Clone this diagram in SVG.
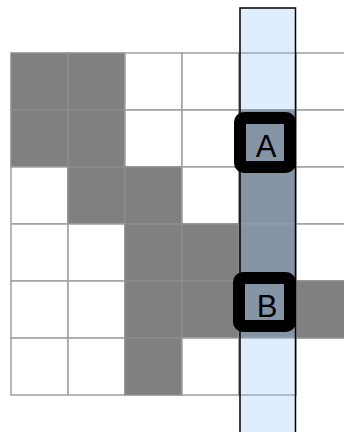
<svg xmlns="http://www.w3.org/2000/svg" width="344" height="432" viewBox="0 0 344 432">
<style>
.w{fill:#ffffff;stroke:#a0a0a0;stroke-width:1.5}
.g{fill:#808080;stroke:#8c8c8c;stroke-width:1.5}
.col{fill:#94c8ff;fill-opacity:0.3;stroke:#000;stroke-width:1.5}
.box{fill:none;stroke:#000;stroke-width:12}
.lbl{font-family:"Liberation Sans",Arial,sans-serif;font-size:31px;fill:#000;text-anchor:middle}
</style>
<rect width="344" height="432" fill="#ffffff"/>
<g id="grid">
<rect class="g" x="11" y="53" width="57" height="57"/>
<rect class="g" x="68" y="53" width="57" height="57"/>
<rect class="w" x="125" y="53" width="57" height="57"/>
<rect class="w" x="182" y="53" width="57" height="57"/>
<rect class="w" x="239" y="53" width="57" height="57"/>
<rect class="w" x="296" y="53" width="57" height="57"/>
<rect class="g" x="11" y="110" width="57" height="57"/>
<rect class="g" x="68" y="110" width="57" height="57"/>
<rect class="w" x="125" y="110" width="57" height="57"/>
<rect class="w" x="182" y="110" width="57" height="57"/>
<rect class="g" x="239" y="110" width="57" height="57"/>
<rect class="w" x="296" y="110" width="57" height="57"/>
<rect class="w" x="11" y="167" width="57" height="57"/>
<rect class="g" x="68" y="167" width="57" height="57"/>
<rect class="g" x="125" y="167" width="57" height="57"/>
<rect class="w" x="182" y="167" width="57" height="57"/>
<rect class="g" x="239" y="167" width="57" height="57"/>
<rect class="w" x="296" y="167" width="57" height="57"/>
<rect class="w" x="11" y="224" width="57" height="57"/>
<rect class="w" x="68" y="224" width="57" height="57"/>
<rect class="g" x="125" y="224" width="57" height="57"/>
<rect class="g" x="182" y="224" width="57" height="57"/>
<rect class="g" x="239" y="224" width="57" height="57"/>
<rect class="w" x="296" y="224" width="57" height="57"/>
<rect class="w" x="11" y="281" width="57" height="57"/>
<rect class="w" x="68" y="281" width="57" height="57"/>
<rect class="g" x="125" y="281" width="57" height="57"/>
<rect class="g" x="182" y="281" width="57" height="57"/>
<rect class="g" x="239" y="281" width="57" height="57"/>
<rect class="g" x="296" y="281" width="57" height="57"/>
<rect class="w" x="11" y="338" width="57" height="57"/>
<rect class="w" x="68" y="338" width="57" height="57"/>
<rect class="g" x="125" y="338" width="57" height="57"/>
<rect class="w" x="182" y="338" width="57" height="57"/>
<rect class="w" x="239" y="338" width="57" height="57"/>
</g>
<g id="column">
<rect class="col" x="240" y="8" width="55.5" height="430"/>
</g>
<g id="nodeA">
<rect class="box" x="240" y="118" width="50" height="49" rx="4"/>
<text class="lbl" x="266" y="157">A</text>
</g>
<g id="nodeB">
<rect class="box" x="239" y="278" width="51" height="48" rx="4"/>
<text class="lbl" x="267" y="317">B</text>
</g>
<g id="connectors"></g>
</svg>
